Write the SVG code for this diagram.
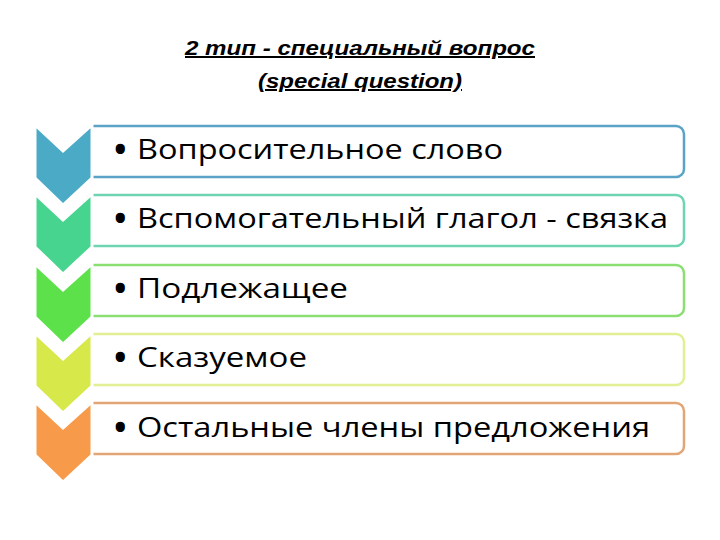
<svg xmlns="http://www.w3.org/2000/svg" width="720" height="540" viewBox="0 0 720 540">
<style>
.title{font-family:"Liberation Sans",Arial,sans-serif;font-size:20px;font-style:italic;font-weight:bold;text-decoration:underline;fill:#000}
.item{font-family:"Open Sans","Liberation Sans",sans-serif;font-size:28px;fill:#000}
.bul{font-size:44px}
.box{fill:#fff;stroke-width:2.5}
.chev{stroke:#fff;stroke-width:3;stroke-linejoin:miter}
</style>
<rect width="720" height="540" fill="#fff"/>
<g id="title">
<text class="title" x="185" y="55" textLength="350" lengthAdjust="spacingAndGlyphs">2 тип - специальный вопрос</text>
<text class="title" x="258" y="88" textLength="204" lengthAdjust="spacingAndGlyphs">(special question)</text>
</g>
<g id="row1">
<rect class="box" x="86" y="126" width="598" height="51" rx="8" stroke="#5aa3c6"/>
<text class="item" y="159"><tspan class="bul" x="112" dy="6">•</tspan><tspan x="137" dy="-6" textLength="366" lengthAdjust="spacingAndGlyphs">Вопросительное слово</tspan></text>
</g>
<g id="row2">
<rect class="box" x="86" y="195" width="598" height="51" rx="8" stroke="#6fd4b2"/>
<text class="item" y="228"><tspan class="bul" x="112" dy="6">•</tspan><tspan x="137" dy="-6" textLength="531" lengthAdjust="spacingAndGlyphs">Вспомогательный глагол - связка</tspan></text>
</g>
<g id="row3">
<rect class="box" x="86" y="265" width="598" height="51" rx="8" stroke="#8ade72"/>
<text class="item" y="298"><tspan class="bul" x="112" dy="6">•</tspan><tspan x="137" dy="-6" textLength="211" lengthAdjust="spacingAndGlyphs">Подлежащее</tspan></text>
</g>
<g id="row4">
<rect class="box" x="86" y="334" width="598" height="51" rx="8" stroke="#e2ef95"/>
<text class="item" y="367"><tspan class="bul" x="112" dy="6">•</tspan><tspan x="137" dy="-6" textLength="170" lengthAdjust="spacingAndGlyphs">Сказуемое</tspan></text>
</g>
<g id="row5">
<rect class="box" x="86" y="403" width="598" height="51" rx="8" stroke="#e2a676"/>
<text class="item" y="437"><tspan class="bul" x="112" dy="6">•</tspan><tspan x="137" dy="-6" textLength="513" lengthAdjust="spacingAndGlyphs">Остальные члены предложения</tspan></text>
</g>
<g id="chevrons">
<polygon class="chev" fill="#4babc6" points="35,125 63,151 92,125 92,178 63,205 35,178"/>
<polygon class="chev" fill="#47d48f" points="35,194 63,220 92,194 92,247 63,274 35,247"/>
<polygon class="chev" fill="#5ce14b" points="35,264 63,290 92,264 92,317 63,344 35,317"/>
<polygon class="chev" fill="#d6e84a" points="35,333 63,359 92,333 92,386 63,413 35,386"/>
<polygon class="chev" fill="#f79a4a" points="35,402 63,428 92,402 92,455 63,482 35,455"/>
</g>
</svg>
